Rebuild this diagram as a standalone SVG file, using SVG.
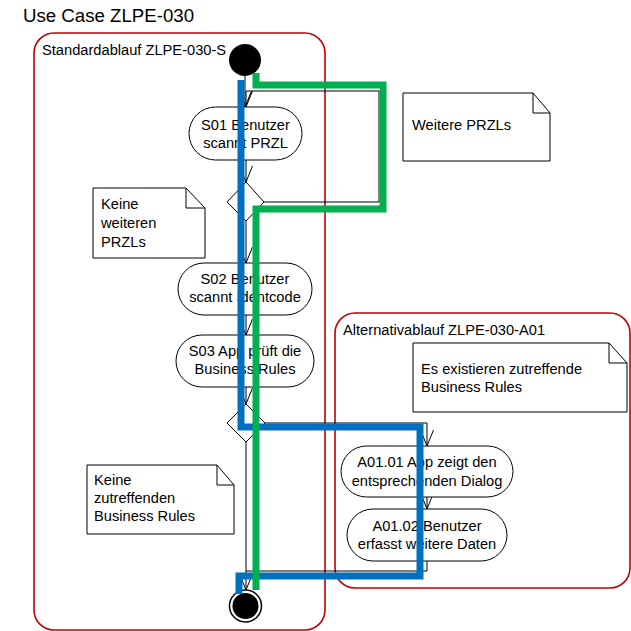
<svg xmlns="http://www.w3.org/2000/svg" width="631" height="631" viewBox="0 0 631 631">
<style>
text{font-family:"Liberation Sans",Arial,sans-serif;font-size:14.67px;fill:#000}
.title{font-size:18.67px}
.c{text-anchor:middle}
.frame{fill:none;stroke:#c00000;stroke-width:1.6}
.act{fill:#fff;stroke:#000;stroke-width:1}
.note{fill:#fff;stroke:#000;stroke-width:1}
.fold{fill:none;stroke:#000;stroke-width:1}
.dec{fill:#fff;stroke:#000;stroke-width:1}
.conn{fill:none;stroke:#000;stroke-width:1;marker-end:url(#arr)}
.line{fill:none;stroke:#000;stroke-width:1}
.blue{fill:none;stroke:#0070c0;stroke-width:7}
.green{fill:none;stroke:#00b050;stroke-width:7}
</style>
<defs>
<marker id="arr" markerUnits="userSpaceOnUse" markerWidth="20" markerHeight="20" refX="0" refY="0" orient="auto" overflow="visible">
<path d="M-16,-6.5 L0,0 L-16,6.5" fill="none" stroke="#000" stroke-width="1"/>
</marker>
</defs>
<rect width="631" height="631" fill="#fff"/>
<text class="title" x="23" y="22">Use Case ZLPE-030</text>
<g id="frame-standard">
<rect class="frame" x="34" y="33" width="291" height="597" rx="20"/>
<text x="42" y="55">Standardablauf ZLPE-030-S</text>
</g>
<g id="frame-alt">
<rect class="frame" x="335" y="313" width="295" height="275" rx="20"/>
<text x="343" y="335">Alternativablauf ZLPE-030-A01</text>
</g>
<g id="connectors">
<path class="conn" d="M245,76 V107"/>
<path class="conn" d="M264,202 H379 V91 H246 V107"/>
<path class="conn" d="M246,160 V182"/>
<path class="conn" d="M246,221 V263"/>
<path class="conn" d="M246,315 V335"/>
<path class="conn" d="M246,387 V404"/>
<path class="conn" d="M265,423 H427 V446"/>
<path class="conn" d="M427,497 V509"/>
<path class="conn" d="M246,442 V590"/>
<path class="line" d="M427,561 V571 H246"/>
</g>
<g id="start">
<circle cx="245" cy="60" r="16" fill="#000"/>
</g>
<g id="S01">
<rect class="act" x="189" y="107" width="113" height="53" rx="26.5"/>
<text class="c" x="245.5" y="130">S01 Benutzer</text>
<text class="c" x="245.5" y="148">scannt PRZL</text>
</g>
<g id="D1">
<path class="dec" d="M246,182 L264,202 L246,221 L227,202 Z"/>
</g>
<g id="note-weitere">
<path class="note" d="M403,93 H533 L550,113 V161 H403 Z"/>
<path class="fold" d="M533,93 V113 H550"/>
<text x="412" y="130">Weitere PRZLs</text>
</g>
<g id="note-keine-przl">
<path class="note" d="M93,188 H186 L205,208 V258 H93 Z"/>
<path class="fold" d="M186,188 V208 H205"/>
<text x="101" y="209">Keine</text>
<text x="101" y="228">weiteren</text>
<text x="101" y="247">PRZLs</text>
</g>
<g id="S02">
<rect class="act" x="178" y="263" width="134" height="52" rx="26"/>
<text class="c" x="245" y="284">S02 Benutzer</text>
<text class="c" x="245" y="302">scannt Identcode</text>
</g>
<g id="S03">
<rect class="act" x="176" y="335" width="138" height="52" rx="26"/>
<text class="c" x="245" y="356">S03 App prüft die</text>
<text class="c" x="245" y="374">Business Rules</text>
</g>
<g id="D2">
<path class="dec" d="M246,404 L265,423 L246,442 L227,423 Z"/>
</g>
<g id="note-existieren">
<path class="note" d="M413,343 H609 L627,363 V412 H413 Z"/>
<path class="fold" d="M609,343 V363 H627"/>
<text x="421" y="374">Es existieren zutreffende</text>
<text x="421" y="392">Business Rules</text>
</g>
<g id="A0101">
<rect class="act" x="341" y="446" width="172" height="51" rx="25.5"/>
<text class="c" x="427" y="467">A01.01 App zeigt den</text>
<text class="c" x="427" y="486">entsprechenden Dialog</text>
</g>
<g id="A0102">
<rect class="act" x="347" y="509" width="160" height="52" rx="26"/>
<text class="c" x="427" y="531">A01.02 Benutzer</text>
<text class="c" x="427" y="549">erfasst weitere Daten</text>
</g>
<g id="note-keine-br">
<path class="note" d="M87,465 H217 L234,485 V534 H87 Z"/>
<path class="fold" d="M217,465 V485 H234"/>
<text x="94" y="485">Keine</text>
<text x="94" y="503">zutreffenden</text>
<text x="94" y="521">Business Rules</text>
</g>
<g id="final">
<circle cx="245.5" cy="606" r="16" fill="#fff" stroke="#000" stroke-width="1.5"/>
<circle cx="245.5" cy="606" r="13" fill="#000"/>
</g>
<g id="paths">
<path class="blue" d="M241,80 V427 H420 V576 H239 V594"/>
<path class="green" d="M256,73 V85 H383 V209 H256 V590"/>
</g>
</svg>
